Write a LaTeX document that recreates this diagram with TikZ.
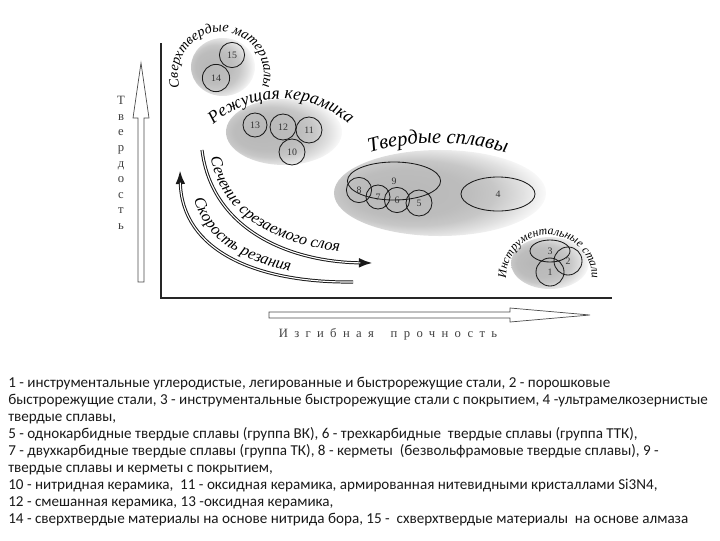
\documentclass[tikz,border=0pt]{standalone}
\usepackage{fontspec}
\setmainfont{Liberation Serif}
\newfontfamily\legendfont{Carlito}
\usetikzlibrary{
    arrows.meta,
    shapes.geometric,
    decorations.text
}

\pgfdeclareradialshading{blobshade}{\pgfpoint{-12bp}{0bp}}{%
  color(0bp)=(black!28); color(14bp)=(black!26); color(19bp)=(black!22);
  color(24bp)=(black!12); color(29bp)=(white); color(38bp)=(white)}

\begin{document}
\begin{tikzpicture}[
    x=0.025cm, y=-0.025cm,
    >=Latex,
    frame/.style={line width=1.4pt, black!85},
    hollow/.style={draw=black!70, line width=0.5pt, fill=white},
    axlab/.style={text=black!75, inner sep=0pt, font=\fontsize{9}{11.1}\selectfont},
    blob/.style={ellipse, draw=none, shading=blobshade, inner sep=0pt},
    mat/.style={circle, draw=black!90, line width=0.6pt, inner sep=0pt,
                text=black!80, font=\fontsize{7}{7}\selectfont},
    grp/.style={ellipse, draw=black!90, line width=0.6pt, inner sep=0pt,
                text=black!80, font=\fontsize{7}{7}\selectfont},
    dbl/.style={line width=2.2pt, black!90},
    gap/.style={line width=0.8pt, white},
    title/.style={decorate, decoration={text along path, text align=center}},
    along/.style={decorate, decoration={text along path,
                  text align={left indent=#1}}},
]
\useasboundingbox (0,0) rectangle (720,540);

% =========================
% 1) AXES
% =========================
\coordinate (ytop) at (161,43);
\coordinate (orig) at (161,298);
\coordinate (xend) at (612,298);
\draw[frame] (ytop) -- (orig) -- (xend);

% hollow arrows
\draw[hollow] (138,282) -- (138,118) -- (133,118) -- (141,63)
    -- (149,118) -- (144,118) -- (144,282) -- cycle;
\draw[hollow] (269,312) -- (510,312) -- (510,308) -- (590,315)
    -- (510,322) -- (510,318) -- (269,318) -- cycle;

\node[axlab, align=center] (hardness) at (121,163)
    {Т\\в\\е\\р\\д\\о\\с\\т\\ь};
\node[axlab] (bending) at (388,334)
    {\addfontfeatures{LetterSpace=50}Изгибная\hspace{12pt}прочность};

% =========================
% 2) GROUPS
% =========================
\node[blob, minimum width=1.6cm,  minimum height=1.45cm] (bSuper) at (223,67)  {};
\node[blob, minimum width=2.9cm,  minimum height=1.65cm] (bCeram) at (284,132) {};
\node[blob, minimum width=5.3cm,  minimum height=2.15cm] (bHard)  at (440,193) {};
\node[blob, minimum width=1.95cm, minimum height=1.3cm]  (bTool)  at (550,263) {};

% superhard
\node[mat, minimum size=0.63cm] (m15) at (232,55) {15};
\node[mat, minimum size=0.68cm] (m14) at (216,78) {14};
% ceramics
\node[mat, minimum size=0.60cm] (m13) at (255,125) {13};
\node[mat, minimum size=0.65cm] (m12) at (283,127) {12};
\node[mat, minimum size=0.65cm] (m11) at (309,130) {11};
\node[mat, minimum size=0.65cm] (m10) at (292,152) {10};
% hard alloys
\node[grp, minimum width=2.33cm, minimum height=0.95cm] (m9) at (394,181) {9};
\node[mat, minimum size=0.63cm] (m8) at (359,190) {8};
\node[mat, minimum size=0.60cm] (m7) at (378,197) {7};
\node[mat, minimum size=0.63cm] (m6) at (397,200) {6};
\node[mat, minimum size=0.65cm] (m5) at (419,203) {5};
\node[grp, minimum width=1.85cm, minimum height=0.85cm] (m4) at (498,194) {4};
% tool steels
\node[grp, minimum width=1.0cm, minimum height=0.55cm] (m3) at (550,251) {3};
\node[mat, minimum size=0.70cm] (m2) at (568,261) {2};
\node[mat, minimum size=0.70cm] (m1) at (550,272) {1};

% group titles
\begin{scope}
\itshape\fontsize{10}{10}\selectfont
\path[title, decoration={text={Сверхтвердые материалы}}]
    (221,75) ++(165:43) arc (165:375:43);
\end{scope}
\begin{scope}
\itshape\fontsize{8.4}{8.4}\selectfont
\path[title, decoration={text={Инструментальные стали}}]
    (549,278) ++(168:43) arc (168:372:43);
\end{scope}
\begin{scope}
\itshape\fontsize{12.5}{12.5}\selectfont
\path[title, decoration={text={Режущая керамика}}]
    (281,203) ++(218:104) arc (218:322:104);
\end{scope}
\begin{scope}
\itshape\fontsize{14.5}{14.5}\selectfont
\path[title, decoration={text={Твердые сплавы}}]
    (438,389) ++(245:246) arc (245:295:246);
\end{scope}

% =========================
% 3) CUTTING ARROWS
% =========================
\coordinate (secS) at (202,150);
\coordinate (secE) at (373,263);
\coordinate (spdS) at (353,282);
\coordinate (spdE) at (180,170);

\draw[dbl, -{Latex[length=10pt, width=7pt]}]
    (secS) .. controls (212,230) and (290,262) .. (secE);
\draw[gap, shorten >=9pt]
    (secS) .. controls (212,230) and (290,262) .. (secE);
\draw[dbl, -{Latex[length=10pt, width=7pt]}]
    (spdS) .. controls (255,283) and (182,250) .. (spdE);
\draw[gap, shorten >=9pt]
    (spdS) .. controls (255,283) and (182,250) .. (spdE);

\begin{scope}
\itshape\fontsize{11.5}{11.5}\selectfont
\path[along=0.15cm, decoration={text={Сечение срезаемого слоя}}]
    (210,152) .. controls (218,222) and (290,252) .. (372,254);
\path[along=0.5cm, decoration={text={Скорость резания}}]
    (191,180) .. controls (194,245) and (258,276) .. (352,277);
\end{scope}

% =========================
% 4) LEGEND
% =========================
\node[anchor=north west, align=left, inner sep=0pt, text=black!90,
      font=\legendfont\fontsize{10.75}{12.05}\selectfont] (legend) at (8,377) {%
1 - инструментальные углеродистые, легированные и быстрорежущие стали, 2 - порошковые\\
быстрорежущие стали, 3 - инструментальные быстрорежущие стали с покрытием, 4 -ультрамелкозернистые\\
твердые сплавы,\\
5 - однокарбидные твердые сплавы (группа ВК), 6 - трехкарбидные\ \ твердые сплавы (группа ТТК),\\
7 - двухкарбидные твердые сплавы (группа ТК), 8 - керметы\ \ (безвольфрамовые твердые сплавы), 9 -\\
твердые сплавы и керметы с покрытием,\\
10 - нитридная керамика,\ \ 11 - оксидная керамика, армированная нитевидными кристаллами Si3N4,\\
12 - смешанная керамика, 13 -оксидная керамика,\\
14 - сверхтвердые материалы на основе нитрида бора, 15 -\ \ схверхтвердые материалы\ \ на основе алмаза};

\end{tikzpicture}
\end{document}
